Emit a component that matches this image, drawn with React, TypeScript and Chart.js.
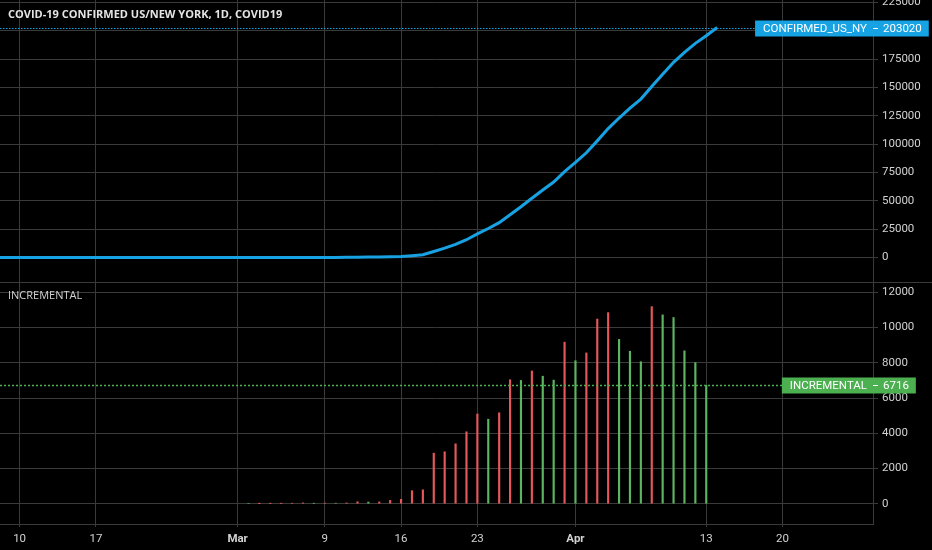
import React, { useEffect, useRef } from 'react';
import Chart from 'chart.js/auto';

// x values are day offsets from 1 March 2020
const confirmedStartDay = -29; // 1 Feb
const confirmed = [
  0, 0, 0, 0, 0, 0, 0, 0, 0, 0, 0, 0, 0, 0, 0, 0, 0, 0, 0, 0, 0, 0, 0, 0, 0, 0, 0, 0, 0,
  1, 1, 2, 11, 22, 44, 89, 106, 142, 173, 217, 326, 421, 521, 711, 961, 1700, 2489,
  5365, 8310, 11710, 15793, 20884, 25681, 30841, 37877, 44876, 52410, 59648, 66663, 75833,
  83948, 92506, 102987, 113833, 123160, 131815, 139875, 151061, 161779, 172348, 181026,
  189033, 195749, 203020,
];

const incrementalStartDay = 1; // 2 Mar
const incremental = [
  0, 1, 9, 11, 22, 45, 17, 36, 31, 44, 109, 95, 100, 190, 250, 739, 789, 2870, 2945, 3400,
  4083, 5091, 4797, 5160, 7036, 6999, 7534, 7238, 7015, 9170, 8115, 8558, 10481, 10846,
  9327, 8655, 8060, 11186, 10718, 10569, 8678, 8007, 6716,
];

const xTickDays = [-20, -13, 0, 8, 15, 22, 31, 43, 50];
const xTickLabels = ['10', '17', 'Mar', '9', '16', '23', 'Apr', '13', '20'];
const confirmedTicks = [0, 25000, 50000, 75000, 100000, 125000, 150000, 175000, 200000, 225000];
const incrementalTicks = [0, 2000, 4000, 6000, 8000, 10000, 12000];

const BLUE = '#17a2e4';
const RED = '#e5575a';
const GREEN = '#5cb560';
const BOX_GREEN = '#4caf50';
const GRID = '#3a3a3a';
const TEXT = '#d2d2d2';
const FONT = 'Roboto';

const noPadding = (scale: any) => {
  scale.paddingTop = 0;
  scale.paddingBottom = 0;
  scale.paddingLeft = 0;
  scale.paddingRight = 0;
};

const drawMarker = (
  ctx: CanvasRenderingContext2D,
  area: { left: number; right: number },
  scale: any,
  value: number,
  name: string,
  color: string,
  lineWidth: number,
  dash: number[],
) => {
  const y = Math.round(scale.getPixelForValue(value)) + 0.5;
  ctx.save();
  ctx.strokeStyle = color;
  ctx.lineWidth = lineWidth;
  ctx.setLineDash(dash);
  ctx.beginPath();
  ctx.moveTo(area.left, y);
  ctx.lineTo(area.right, y);
  ctx.stroke();
  ctx.setLineDash([]);
  ctx.lineWidth = 1;

  ctx.font = `11.5px ${FONT}`;
  const axisX = scale.left;
  const valueText = String(value);
  const nameW = ctx.measureText(name).width;
  const valW = ctx.measureText(valueText).width;
  const boxLeft = axisX - 6 - nameW - 8;
  const boxRight = axisX + 10 + valW + 7;
  ctx.fillStyle = color;
  ctx.fillRect(boxLeft, y - 8, boxRight - boxLeft, 16);

  ctx.fillStyle = '#ffffff';
  ctx.textBaseline = 'middle';
  ctx.textAlign = 'left';
  ctx.fillText(name, boxLeft + 8, y + 0.5);
  ctx.fillText(valueText, axisX + 10, y + 0.5);
  ctx.strokeStyle = '#ffffff';
  ctx.beginPath();
  ctx.moveTo(axisX, y);
  ctx.lineTo(axisX + 5, y);
  ctx.stroke();
  ctx.restore();
};

const overlayPlugin = {
  id: 'overlay',
  afterDraw(chart: any) {
    const { ctx, chartArea, scales } = chart;
    const top = scales.yMain;
    const inc = scales.yInc;
    ctx.save();

    // separator between the two panes
    const sepY = Math.round(top.bottom) + 0.5;
    ctx.strokeStyle = GRID;
    ctx.lineWidth = 1;
    ctx.beginPath();
    ctx.moveTo(0, sepY);
    ctx.lineTo(chart.width, sepY);
    ctx.stroke();

    drawMarker(ctx, chartArea, top, confirmed[confirmed.length - 1], 'CONFIRMED_US_NY', BLUE, 1, [1.5, 1.5]);
    drawMarker(ctx, chartArea, inc, incremental[incremental.length - 1], 'INCREMENTAL', BOX_GREEN, 1.5, [2, 2]);

    ctx.textBaseline = 'middle';
    ctx.textAlign = 'left';
    ctx.fillStyle = '#e4e4e4';
    ctx.font = 'bold 11px "Open Sans"';
    ctx.fillText('COVID-19 CONFIRMED US/NEW YORK, 1D, COVID19', 8, 15);
    ctx.fillStyle = TEXT;
    ctx.font = '11px "Open Sans"';
    ctx.fillText('INCREMENTAL', 8, top.bottom + 14);
    ctx.restore();
  },
};

const App: React.FC = () => {
  const canvasRef = useRef<HTMLCanvasElement>(null);
  const chartRef = useRef<Chart | null>(null);

  useEffect(() => {
    document.body.style.margin = '0';
    document.body.style.background = '#000';
    if (!canvasRef.current) return;
    if (chartRef.current) chartRef.current.destroy();

    const linePoints = confirmed.map((v, i) => ({ x: confirmedStartDay + i, y: v }));
    const barPoints = incremental.map((v, i) => ({ x: incrementalStartDay + i, y: v }));
    const barColors = incremental.map((v, i) => (i > 0 && v > incremental[i - 1] ? RED : GREEN));

    const yCommon = {
      type: 'linear' as const,
      position: 'right' as const,
      stack: 'panes',
      grid: { color: GRID, tickLength: 5 },
      border: { display: true, color: GRID },
      ticks: {
        color: TEXT,
        font: { family: FONT, size: 11.5 },
        padding: 4,
        autoSkip: false,
        callback: (v: any) => String(v),
      },
      afterFit: (scale: any) => {
        scale.width = 59;
        noPadding(scale);
      },
    };

    chartRef.current = new Chart(canvasRef.current, {
      type: 'bar',
      data: {
        datasets: [
          {
            type: 'line',
            label: 'CONFIRMED_US_NY',
            data: linePoints,
            yAxisID: 'yMain',
            borderColor: BLUE,
            borderWidth: 3,
            pointRadius: 0,
            tension: 0,
            fill: false,
          } as any,
          {
            type: 'bar',
            label: 'INCREMENTAL',
            data: barPoints,
            yAxisID: 'yInc',
            backgroundColor: barColors,
            borderWidth: 0,
            barThickness: 1.5,
            grouped: false,
          } as any,
        ],
      },
      options: {
        responsive: false,
        animation: false,
        events: [],
        layout: { padding: 0 },
        plugins: {
          legend: { display: false },
          tooltip: { enabled: false },
        },
        scales: {
          x: {
            type: 'linear',
            min: -21.8,
            max: 58.3,
            offset: false,
            grid: { color: GRID, tickLength: 3, offset: false },
            border: { display: true, color: GRID },
            ticks: {
              color: TEXT,
              padding: 5,
              autoSkip: false,
              maxRotation: 0,
              font: (c: any) => {
                const label = xTickLabels[xTickDays.indexOf(c.tick?.value)];
                return { family: FONT, size: 11.5, weight: label === 'Mar' || label === 'Apr' ? 'bold' : 'normal' };
              },
              callback: (v: any) => xTickLabels[xTickDays.indexOf(v)] ?? '',
            },
            afterBuildTicks: (scale: any) => {
              scale.ticks = xTickDays.map((d) => ({ value: d }));
            },
            afterFit: (scale: any) => {
              scale.height = 26;
              noPadding(scale);
            },
          },
          yMain: {
            ...yCommon,
            stackWeight: 282,
            min: -21530,
            max: 227300,
            afterBuildTicks: (scale: any) => {
              scale.ticks = confirmedTicks.map((v) => ({ value: v }));
            },
          },
          yInc: {
            ...yCommon,
            stackWeight: 242,
            min: -1152,
            max: 12585,
            afterBuildTicks: (scale: any) => {
              scale.ticks = incrementalTicks.map((v) => ({ value: v }));
            },
          },
        } as any,
      },
      plugins: [overlayPlugin],
    });

    return () => {
      if (chartRef.current) {
        chartRef.current.destroy();
        chartRef.current = null;
      }
    };
  }, []);

  return (
    <div style={{ width: 932, height: 550, background: '#000' }}>
      <canvas ref={canvasRef} width={932} height={550} style={{ display: 'block' }}></canvas>
    </div>
  );
};

export default App;
